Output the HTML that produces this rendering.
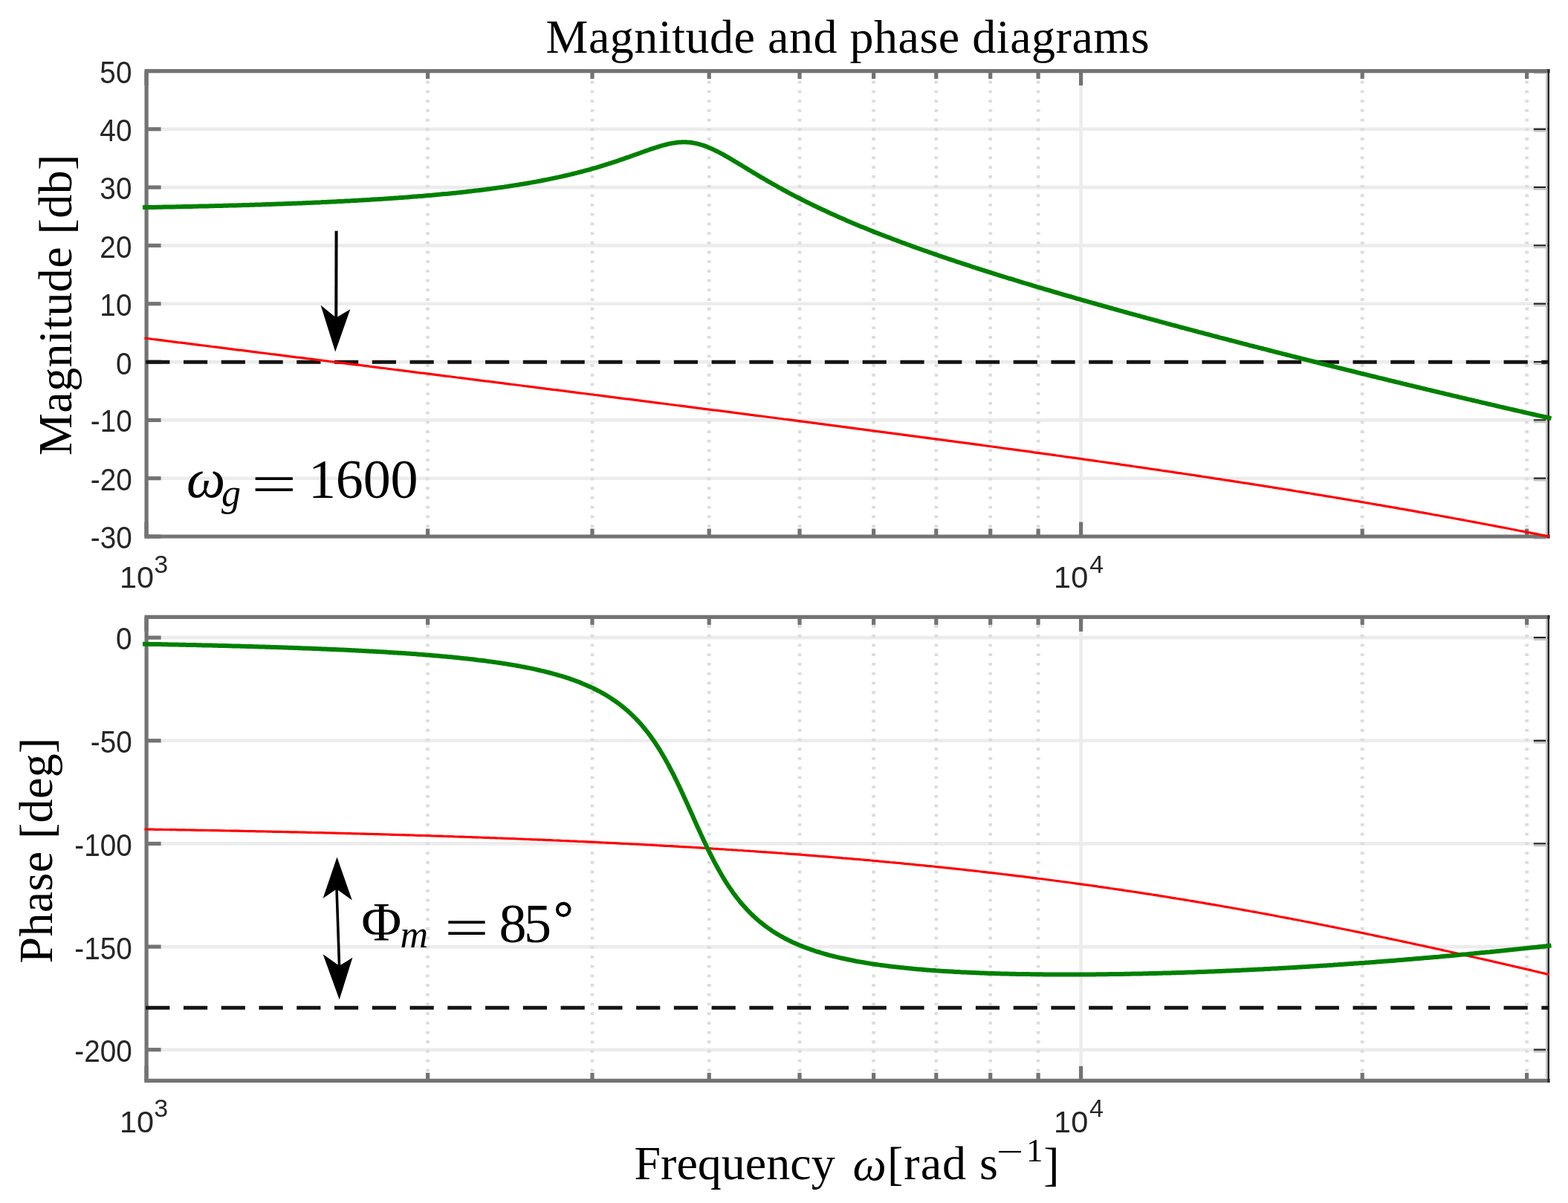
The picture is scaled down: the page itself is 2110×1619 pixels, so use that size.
<!DOCTYPE html>
<html><head><meta charset="utf-8"><style>html,body{margin:0;padding:0;background:#fff;overflow:hidden;}svg{display:block;}</style></head>
<body>
<svg width="2110" height="1619" viewBox="0 0 2110 1619">
<rect width="2110" height="1619" fill="#fff"/>
<line x1="197.1" y1="173.8" x2="2083.3" y2="173.8" stroke="#ececec" stroke-width="4.6"/>
<line x1="197.1" y1="252.1" x2="2083.3" y2="252.1" stroke="#ececec" stroke-width="4.6"/>
<line x1="197.1" y1="330.4" x2="2083.3" y2="330.4" stroke="#ececec" stroke-width="4.6"/>
<line x1="197.1" y1="408.8" x2="2083.3" y2="408.8" stroke="#ececec" stroke-width="4.6"/>
<line x1="197.1" y1="487.1" x2="2083.3" y2="487.1" stroke="#ececec" stroke-width="4.6"/>
<line x1="197.1" y1="565.4" x2="2083.3" y2="565.4" stroke="#ececec" stroke-width="4.6"/>
<line x1="197.1" y1="643.7" x2="2083.3" y2="643.7" stroke="#ececec" stroke-width="4.6"/>
<line x1="575.6" y1="722.0" x2="575.6" y2="95.6" stroke="#dddddd" stroke-width="4.8" stroke-dasharray="3.8 8.91" stroke-dashoffset="0.7"/>
<line x1="797.0" y1="722.0" x2="797.0" y2="95.6" stroke="#dddddd" stroke-width="4.8" stroke-dasharray="3.8 8.91" stroke-dashoffset="0.7"/>
<line x1="954.2" y1="722.0" x2="954.2" y2="95.6" stroke="#dddddd" stroke-width="4.8" stroke-dasharray="3.8 8.91" stroke-dashoffset="0.7"/>
<line x1="1076.0" y1="722.0" x2="1076.0" y2="95.6" stroke="#dddddd" stroke-width="4.8" stroke-dasharray="3.8 8.91" stroke-dashoffset="0.7"/>
<line x1="1175.6" y1="722.0" x2="1175.6" y2="95.6" stroke="#dddddd" stroke-width="4.8" stroke-dasharray="3.8 8.91" stroke-dashoffset="0.7"/>
<line x1="1259.8" y1="722.0" x2="1259.8" y2="95.6" stroke="#dddddd" stroke-width="4.8" stroke-dasharray="3.8 8.91" stroke-dashoffset="0.7"/>
<line x1="1332.7" y1="722.0" x2="1332.7" y2="95.6" stroke="#dddddd" stroke-width="4.8" stroke-dasharray="3.8 8.91" stroke-dashoffset="0.7"/>
<line x1="1397.1" y1="722.0" x2="1397.1" y2="95.6" stroke="#dddddd" stroke-width="4.8" stroke-dasharray="3.8 8.91" stroke-dashoffset="0.7"/>
<line x1="1833.2" y1="722.0" x2="1833.2" y2="95.6" stroke="#dddddd" stroke-width="4.8" stroke-dasharray="3.8 8.91" stroke-dashoffset="0.7"/>
<line x1="2054.6" y1="722.0" x2="2054.6" y2="95.6" stroke="#dddddd" stroke-width="4.8" stroke-dasharray="3.8 8.91" stroke-dashoffset="0.7"/>
<line x1="1454.6" y1="95.6" x2="1454.6" y2="722.0" stroke="#ececec" stroke-width="4.6"/>
<line x1="197.1" y1="858.1" x2="2083.3" y2="858.1" stroke="#ececec" stroke-width="4.6"/>
<line x1="197.1" y1="996.8" x2="2083.3" y2="996.8" stroke="#ececec" stroke-width="4.6"/>
<line x1="197.1" y1="1135.4" x2="2083.3" y2="1135.4" stroke="#ececec" stroke-width="4.6"/>
<line x1="197.1" y1="1274.1" x2="2083.3" y2="1274.1" stroke="#ececec" stroke-width="4.6"/>
<line x1="197.1" y1="1412.7" x2="2083.3" y2="1412.7" stroke="#ececec" stroke-width="4.6"/>
<line x1="575.6" y1="1454.3" x2="575.6" y2="830.4" stroke="#dddddd" stroke-width="4.8" stroke-dasharray="3.8 8.91" stroke-dashoffset="0.7"/>
<line x1="797.0" y1="1454.3" x2="797.0" y2="830.4" stroke="#dddddd" stroke-width="4.8" stroke-dasharray="3.8 8.91" stroke-dashoffset="0.7"/>
<line x1="954.2" y1="1454.3" x2="954.2" y2="830.4" stroke="#dddddd" stroke-width="4.8" stroke-dasharray="3.8 8.91" stroke-dashoffset="0.7"/>
<line x1="1076.0" y1="1454.3" x2="1076.0" y2="830.4" stroke="#dddddd" stroke-width="4.8" stroke-dasharray="3.8 8.91" stroke-dashoffset="0.7"/>
<line x1="1175.6" y1="1454.3" x2="1175.6" y2="830.4" stroke="#dddddd" stroke-width="4.8" stroke-dasharray="3.8 8.91" stroke-dashoffset="0.7"/>
<line x1="1259.8" y1="1454.3" x2="1259.8" y2="830.4" stroke="#dddddd" stroke-width="4.8" stroke-dasharray="3.8 8.91" stroke-dashoffset="0.7"/>
<line x1="1332.7" y1="1454.3" x2="1332.7" y2="830.4" stroke="#dddddd" stroke-width="4.8" stroke-dasharray="3.8 8.91" stroke-dashoffset="0.7"/>
<line x1="1397.1" y1="1454.3" x2="1397.1" y2="830.4" stroke="#dddddd" stroke-width="4.8" stroke-dasharray="3.8 8.91" stroke-dashoffset="0.7"/>
<line x1="1833.2" y1="1454.3" x2="1833.2" y2="830.4" stroke="#dddddd" stroke-width="4.8" stroke-dasharray="3.8 8.91" stroke-dashoffset="0.7"/>
<line x1="2054.6" y1="1454.3" x2="2054.6" y2="830.4" stroke="#dddddd" stroke-width="4.8" stroke-dasharray="3.8 8.91" stroke-dashoffset="0.7"/>
<line x1="1454.6" y1="830.4" x2="1454.6" y2="1454.3" stroke="#ececec" stroke-width="4.6"/>
<line x1="197.1" y1="95.5" x2="216.6" y2="95.5" stroke="#737373" stroke-width="5.2"/>
<line x1="2063.8" y1="95.5" x2="2083.3" y2="95.5" stroke="#262626" stroke-width="2.3"/>
<line x1="2063.8" y1="98.0" x2="2081.3" y2="98.0" stroke="#c4c4c4" stroke-width="2.7"/>
<line x1="197.1" y1="173.8" x2="216.6" y2="173.8" stroke="#737373" stroke-width="5.2"/>
<line x1="2063.8" y1="173.8" x2="2083.3" y2="173.8" stroke="#262626" stroke-width="2.3"/>
<line x1="2063.8" y1="176.3" x2="2081.3" y2="176.3" stroke="#c4c4c4" stroke-width="2.7"/>
<line x1="197.1" y1="252.1" x2="216.6" y2="252.1" stroke="#737373" stroke-width="5.2"/>
<line x1="2063.8" y1="252.1" x2="2083.3" y2="252.1" stroke="#262626" stroke-width="2.3"/>
<line x1="2063.8" y1="254.6" x2="2081.3" y2="254.6" stroke="#c4c4c4" stroke-width="2.7"/>
<line x1="197.1" y1="330.4" x2="216.6" y2="330.4" stroke="#737373" stroke-width="5.2"/>
<line x1="2063.8" y1="330.4" x2="2083.3" y2="330.4" stroke="#262626" stroke-width="2.3"/>
<line x1="2063.8" y1="332.9" x2="2081.3" y2="332.9" stroke="#c4c4c4" stroke-width="2.7"/>
<line x1="197.1" y1="408.8" x2="216.6" y2="408.8" stroke="#737373" stroke-width="5.2"/>
<line x1="2063.8" y1="408.8" x2="2083.3" y2="408.8" stroke="#262626" stroke-width="2.3"/>
<line x1="2063.8" y1="411.2" x2="2081.3" y2="411.2" stroke="#c4c4c4" stroke-width="2.7"/>
<line x1="197.1" y1="487.1" x2="216.6" y2="487.1" stroke="#737373" stroke-width="5.2"/>
<line x1="2063.8" y1="487.1" x2="2083.3" y2="487.1" stroke="#262626" stroke-width="2.3"/>
<line x1="2063.8" y1="489.6" x2="2081.3" y2="489.6" stroke="#c4c4c4" stroke-width="2.7"/>
<line x1="197.1" y1="565.4" x2="216.6" y2="565.4" stroke="#737373" stroke-width="5.2"/>
<line x1="2063.8" y1="565.4" x2="2083.3" y2="565.4" stroke="#262626" stroke-width="2.3"/>
<line x1="2063.8" y1="567.9" x2="2081.3" y2="567.9" stroke="#c4c4c4" stroke-width="2.7"/>
<line x1="197.1" y1="643.7" x2="216.6" y2="643.7" stroke="#737373" stroke-width="5.2"/>
<line x1="2063.8" y1="643.7" x2="2083.3" y2="643.7" stroke="#262626" stroke-width="2.3"/>
<line x1="2063.8" y1="646.2" x2="2081.3" y2="646.2" stroke="#c4c4c4" stroke-width="2.7"/>
<line x1="197.1" y1="722.0" x2="216.6" y2="722.0" stroke="#737373" stroke-width="5.2"/>
<line x1="2063.8" y1="722.0" x2="2083.3" y2="722.0" stroke="#262626" stroke-width="2.3"/>
<line x1="2063.8" y1="724.5" x2="2081.3" y2="724.5" stroke="#c4c4c4" stroke-width="2.7"/>
<line x1="197.0" y1="722.0" x2="197.0" y2="702.5" stroke="#737373" stroke-width="5.2"/>
<line x1="197.0" y1="95.6" x2="197.0" y2="115.1" stroke="#737373" stroke-width="5.2"/>
<line x1="1454.6" y1="722.0" x2="1454.6" y2="702.5" stroke="#737373" stroke-width="5.2"/>
<line x1="1454.6" y1="95.6" x2="1454.6" y2="115.1" stroke="#737373" stroke-width="5.2"/>
<line x1="575.6" y1="722.0" x2="575.6" y2="711.5" stroke="#737373" stroke-width="5.2"/>
<line x1="575.6" y1="95.6" x2="575.6" y2="106.1" stroke="#737373" stroke-width="5.2"/>
<line x1="797.0" y1="722.0" x2="797.0" y2="711.5" stroke="#737373" stroke-width="5.2"/>
<line x1="797.0" y1="95.6" x2="797.0" y2="106.1" stroke="#737373" stroke-width="5.2"/>
<line x1="954.2" y1="722.0" x2="954.2" y2="711.5" stroke="#737373" stroke-width="5.2"/>
<line x1="954.2" y1="95.6" x2="954.2" y2="106.1" stroke="#737373" stroke-width="5.2"/>
<line x1="1076.0" y1="722.0" x2="1076.0" y2="711.5" stroke="#737373" stroke-width="5.2"/>
<line x1="1076.0" y1="95.6" x2="1076.0" y2="106.1" stroke="#737373" stroke-width="5.2"/>
<line x1="1175.6" y1="722.0" x2="1175.6" y2="711.5" stroke="#737373" stroke-width="5.2"/>
<line x1="1175.6" y1="95.6" x2="1175.6" y2="106.1" stroke="#737373" stroke-width="5.2"/>
<line x1="1259.8" y1="722.0" x2="1259.8" y2="711.5" stroke="#737373" stroke-width="5.2"/>
<line x1="1259.8" y1="95.6" x2="1259.8" y2="106.1" stroke="#737373" stroke-width="5.2"/>
<line x1="1332.7" y1="722.0" x2="1332.7" y2="711.5" stroke="#737373" stroke-width="5.2"/>
<line x1="1332.7" y1="95.6" x2="1332.7" y2="106.1" stroke="#737373" stroke-width="5.2"/>
<line x1="1397.1" y1="722.0" x2="1397.1" y2="711.5" stroke="#737373" stroke-width="5.2"/>
<line x1="1397.1" y1="95.6" x2="1397.1" y2="106.1" stroke="#737373" stroke-width="5.2"/>
<line x1="1833.2" y1="722.0" x2="1833.2" y2="711.5" stroke="#737373" stroke-width="5.2"/>
<line x1="1833.2" y1="95.6" x2="1833.2" y2="106.1" stroke="#737373" stroke-width="5.2"/>
<line x1="2054.6" y1="722.0" x2="2054.6" y2="711.5" stroke="#737373" stroke-width="5.2"/>
<line x1="2054.6" y1="95.6" x2="2054.6" y2="106.1" stroke="#737373" stroke-width="5.2"/>
<path d="M197.1 722.0 V95.6 H2083.3" fill="none" stroke="#737373" stroke-width="5.2" stroke-linecap="square"/>
<path d="M197.1 722.0 H2083.3" fill="none" stroke="#737373" stroke-width="5.2" stroke-linecap="square"/>
<line x1="2083.7000000000003" y1="93.1" x2="2083.7000000000003" y2="724.5" stroke="#262626" stroke-width="2.6"/>
<line x1="2081.1000000000004" y1="98.1" x2="2081.1000000000004" y2="719.5" stroke="#c8c8c8" stroke-width="2.2"/>
<line x1="197.1" y1="858.1" x2="216.6" y2="858.1" stroke="#737373" stroke-width="5.2"/>
<line x1="2063.8" y1="858.1" x2="2083.3" y2="858.1" stroke="#262626" stroke-width="2.3"/>
<line x1="2063.8" y1="860.6" x2="2081.3" y2="860.6" stroke="#c4c4c4" stroke-width="2.7"/>
<line x1="197.1" y1="996.8" x2="216.6" y2="996.8" stroke="#737373" stroke-width="5.2"/>
<line x1="2063.8" y1="996.8" x2="2083.3" y2="996.8" stroke="#262626" stroke-width="2.3"/>
<line x1="2063.8" y1="999.3" x2="2081.3" y2="999.3" stroke="#c4c4c4" stroke-width="2.7"/>
<line x1="197.1" y1="1135.4" x2="216.6" y2="1135.4" stroke="#737373" stroke-width="5.2"/>
<line x1="2063.8" y1="1135.4" x2="2083.3" y2="1135.4" stroke="#262626" stroke-width="2.3"/>
<line x1="2063.8" y1="1137.9" x2="2081.3" y2="1137.9" stroke="#c4c4c4" stroke-width="2.7"/>
<line x1="197.1" y1="1274.1" x2="216.6" y2="1274.1" stroke="#737373" stroke-width="5.2"/>
<line x1="2063.8" y1="1274.1" x2="2083.3" y2="1274.1" stroke="#262626" stroke-width="2.3"/>
<line x1="2063.8" y1="1276.6" x2="2081.3" y2="1276.6" stroke="#c4c4c4" stroke-width="2.7"/>
<line x1="197.1" y1="1412.7" x2="216.6" y2="1412.7" stroke="#737373" stroke-width="5.2"/>
<line x1="2063.8" y1="1412.7" x2="2083.3" y2="1412.7" stroke="#262626" stroke-width="2.3"/>
<line x1="2063.8" y1="1415.2" x2="2081.3" y2="1415.2" stroke="#c4c4c4" stroke-width="2.7"/>
<line x1="197.0" y1="1454.3" x2="197.0" y2="1434.8" stroke="#737373" stroke-width="5.2"/>
<line x1="197.0" y1="830.4" x2="197.0" y2="849.9" stroke="#737373" stroke-width="5.2"/>
<line x1="1454.6" y1="1454.3" x2="1454.6" y2="1434.8" stroke="#737373" stroke-width="5.2"/>
<line x1="1454.6" y1="830.4" x2="1454.6" y2="849.9" stroke="#737373" stroke-width="5.2"/>
<line x1="575.6" y1="1454.3" x2="575.6" y2="1443.8" stroke="#737373" stroke-width="5.2"/>
<line x1="575.6" y1="830.4" x2="575.6" y2="840.9" stroke="#737373" stroke-width="5.2"/>
<line x1="797.0" y1="1454.3" x2="797.0" y2="1443.8" stroke="#737373" stroke-width="5.2"/>
<line x1="797.0" y1="830.4" x2="797.0" y2="840.9" stroke="#737373" stroke-width="5.2"/>
<line x1="954.2" y1="1454.3" x2="954.2" y2="1443.8" stroke="#737373" stroke-width="5.2"/>
<line x1="954.2" y1="830.4" x2="954.2" y2="840.9" stroke="#737373" stroke-width="5.2"/>
<line x1="1076.0" y1="1454.3" x2="1076.0" y2="1443.8" stroke="#737373" stroke-width="5.2"/>
<line x1="1076.0" y1="830.4" x2="1076.0" y2="840.9" stroke="#737373" stroke-width="5.2"/>
<line x1="1175.6" y1="1454.3" x2="1175.6" y2="1443.8" stroke="#737373" stroke-width="5.2"/>
<line x1="1175.6" y1="830.4" x2="1175.6" y2="840.9" stroke="#737373" stroke-width="5.2"/>
<line x1="1259.8" y1="1454.3" x2="1259.8" y2="1443.8" stroke="#737373" stroke-width="5.2"/>
<line x1="1259.8" y1="830.4" x2="1259.8" y2="840.9" stroke="#737373" stroke-width="5.2"/>
<line x1="1332.7" y1="1454.3" x2="1332.7" y2="1443.8" stroke="#737373" stroke-width="5.2"/>
<line x1="1332.7" y1="830.4" x2="1332.7" y2="840.9" stroke="#737373" stroke-width="5.2"/>
<line x1="1397.1" y1="1454.3" x2="1397.1" y2="1443.8" stroke="#737373" stroke-width="5.2"/>
<line x1="1397.1" y1="830.4" x2="1397.1" y2="840.9" stroke="#737373" stroke-width="5.2"/>
<line x1="1833.2" y1="1454.3" x2="1833.2" y2="1443.8" stroke="#737373" stroke-width="5.2"/>
<line x1="1833.2" y1="830.4" x2="1833.2" y2="840.9" stroke="#737373" stroke-width="5.2"/>
<line x1="2054.6" y1="1454.3" x2="2054.6" y2="1443.8" stroke="#737373" stroke-width="5.2"/>
<line x1="2054.6" y1="830.4" x2="2054.6" y2="840.9" stroke="#737373" stroke-width="5.2"/>
<path d="M197.1 1454.3 V830.4 H2083.3" fill="none" stroke="#737373" stroke-width="5.2" stroke-linecap="square"/>
<path d="M197.1 1454.3 H2083.3" fill="none" stroke="#737373" stroke-width="5.2" stroke-linecap="square"/>
<line x1="2083.7000000000003" y1="827.9" x2="2083.7000000000003" y2="1456.8" stroke="#262626" stroke-width="2.6"/>
<line x1="2081.1000000000004" y1="832.9" x2="2081.1000000000004" y2="1451.8" stroke="#c8c8c8" stroke-width="2.2"/>
<line x1="196.2" y1="487.3" x2="2083.8" y2="487.3" stroke="#141414" stroke-width="5.0" stroke-dasharray="32.2 18.56"/>
<line x1="196.2" y1="1356.2" x2="2083.8" y2="1356.2" stroke="#141414" stroke-width="5.0" stroke-dasharray="32.2 18.56"/>
<path d="M194.5 455.0 L198.3 455.5 L202.1 456.0 L205.9 456.5 L209.7 456.9 L213.4 457.4 L217.2 457.9 L221.0 458.4 L224.8 458.9 L228.6 459.3 L232.4 459.8 L236.2 460.3 L240.0 460.8 L243.8 461.2 L247.5 461.7 L251.3 462.2 L255.1 462.7 L258.9 463.1 L262.7 463.6 L266.5 464.1 L270.3 464.6 L274.1 465.0 L277.8 465.5 L281.6 466.0 L285.4 466.5 L289.2 466.9 L293.0 467.4 L296.8 467.9 L300.6 468.4 L304.4 468.8 L308.2 469.3 L311.9 469.8 L315.7 470.3 L319.5 470.8 L323.3 471.2 L327.1 471.7 L330.9 472.2 L334.7 472.7 L338.5 473.1 L342.3 473.6 L346.0 474.1 L349.8 474.6 L353.6 475.0 L357.4 475.5 L361.2 476.0 L365.0 476.5 L368.8 476.9 L372.6 477.4 L376.4 477.9 L380.1 478.4 L383.9 478.9 L387.7 479.3 L391.5 479.8 L395.3 480.3 L399.1 480.8 L402.9 481.2 L406.7 481.7 L410.4 482.2 L414.2 482.7 L418.0 483.1 L421.8 483.6 L425.6 484.1 L429.4 484.6 L433.2 485.0 L437.0 485.5 L440.8 486.0 L444.5 486.5 L448.3 487.0 L452.1 487.4 L455.9 487.9 L459.7 488.4 L463.5 488.9 L467.3 489.3 L471.1 489.8 L474.9 490.3 L478.6 490.8 L482.4 491.2 L486.2 491.7 L490.0 492.2 L493.8 492.7 L497.6 493.2 L501.4 493.6 L505.2 494.1 L509.0 494.6 L512.7 495.1 L516.5 495.5 L520.3 496.0 L524.1 496.5 L527.9 497.0 L531.7 497.5 L535.5 497.9 L539.3 498.4 L543.0 498.9 L546.8 499.4 L550.6 499.8 L554.4 500.3 L558.2 500.8 L562.0 501.3 L565.8 501.8 L569.6 502.2 L573.4 502.7 L577.1 503.2 L580.9 503.7 L584.7 504.1 L588.5 504.6 L592.3 505.1 L596.1 505.6 L599.9 506.1 L603.7 506.5 L607.5 507.0 L611.2 507.5 L615.0 508.0 L618.8 508.4 L622.6 508.9 L626.4 509.4 L630.2 509.9 L634.0 510.4 L637.8 510.8 L641.6 511.3 L645.3 511.8 L649.1 512.3 L652.9 512.8 L656.7 513.2 L660.5 513.7 L664.3 514.2 L668.1 514.7 L671.9 515.1 L675.6 515.6 L679.4 516.1 L683.2 516.6 L687.0 517.1 L690.8 517.5 L694.6 518.0 L698.4 518.5 L702.2 519.0 L706.0 519.5 L709.7 519.9 L713.5 520.4 L717.3 520.9 L721.1 521.4 L724.9 521.9 L728.7 522.3 L732.5 522.8 L736.3 523.3 L740.1 523.8 L743.8 524.3 L747.6 524.7 L751.4 525.2 L755.2 525.7 L759.0 526.2 L762.8 526.7 L766.6 527.1 L770.4 527.6 L774.2 528.1 L777.9 528.6 L781.7 529.1 L785.5 529.5 L789.3 530.0 L793.1 530.5 L796.9 531.0 L800.7 531.5 L804.5 531.9 L808.2 532.4 L812.0 532.9 L815.8 533.4 L819.6 533.9 L823.4 534.4 L827.2 534.8 L831.0 535.3 L834.8 535.8 L838.6 536.3 L842.3 536.8 L846.1 537.2 L849.9 537.7 L853.7 538.2 L857.5 538.7 L861.3 539.2 L865.1 539.7 L868.9 540.1 L872.7 540.6 L876.4 541.1 L880.2 541.6 L884.0 542.1 L887.8 542.6 L891.6 543.0 L895.4 543.5 L899.2 544.0 L903.0 544.5 L906.8 545.0 L910.5 545.5 L914.3 545.9 L918.1 546.4 L921.9 546.9 L925.7 547.4 L929.5 547.9 L933.3 548.4 L937.1 548.9 L940.8 549.3 L944.6 549.8 L948.4 550.3 L952.2 550.8 L956.0 551.3 L959.8 551.8 L963.6 552.2 L967.4 552.7 L971.2 553.2 L974.9 553.7 L978.7 554.2 L982.5 554.7 L986.3 555.2 L990.1 555.7 L993.9 556.1 L997.7 556.6 L1001.5 557.1 L1005.3 557.6 L1009.0 558.1 L1012.8 558.6 L1016.6 559.1 L1020.4 559.6 L1024.2 560.0 L1028.0 560.5 L1031.8 561.0 L1035.6 561.5 L1039.4 562.0 L1043.1 562.5 L1046.9 563.0 L1050.7 563.5 L1054.5 564.0 L1058.3 564.4 L1062.1 564.9 L1065.9 565.4 L1069.7 565.9 L1073.4 566.4 L1077.2 566.9 L1081.0 567.4 L1084.8 567.9 L1088.6 568.4 L1092.4 568.9 L1096.2 569.4 L1100.0 569.9 L1103.8 570.3 L1107.5 570.8 L1111.3 571.3 L1115.1 571.8 L1118.9 572.3 L1122.7 572.8 L1126.5 573.3 L1130.3 573.8 L1134.1 574.3 L1137.9 574.8 L1141.6 575.3 L1145.4 575.8 L1149.2 576.3 L1153.0 576.8 L1156.8 577.3 L1160.6 577.8 L1164.4 578.3 L1168.2 578.8 L1172.0 579.3 L1175.7 579.8 L1179.5 580.3 L1183.3 580.8 L1187.1 581.3 L1190.9 581.8 L1194.7 582.3 L1198.5 582.8 L1202.3 583.3 L1206.1 583.8 L1209.8 584.3 L1213.6 584.8 L1217.4 585.3 L1221.2 585.8 L1225.0 586.3 L1228.8 586.8 L1232.6 587.3 L1236.4 587.8 L1240.1 588.3 L1243.9 588.8 L1247.7 589.3 L1251.5 589.8 L1255.3 590.3 L1259.1 590.8 L1262.9 591.3 L1266.7 591.8 L1270.5 592.3 L1274.2 592.8 L1278.0 593.3 L1281.8 593.8 L1285.6 594.3 L1289.4 594.9 L1293.2 595.4 L1297.0 595.9 L1300.8 596.4 L1304.6 596.9 L1308.3 597.4 L1312.1 597.9 L1315.9 598.4 L1319.7 598.9 L1323.5 599.5 L1327.3 600.0 L1331.1 600.5 L1334.9 601.0 L1338.7 601.5 L1342.4 602.0 L1346.2 602.5 L1350.0 603.1 L1353.8 603.6 L1357.6 604.1 L1361.4 604.6 L1365.2 605.1 L1369.0 605.6 L1372.7 606.2 L1376.5 606.7 L1380.3 607.2 L1384.1 607.7 L1387.9 608.2 L1391.7 608.8 L1395.5 609.3 L1399.3 609.8 L1403.1 610.3 L1406.8 610.9 L1410.6 611.4 L1414.4 611.9 L1418.2 612.4 L1422.0 613.0 L1425.8 613.5 L1429.6 614.0 L1433.4 614.6 L1437.2 615.1 L1440.9 615.6 L1444.7 616.1 L1448.5 616.7 L1452.3 617.2 L1456.1 617.7 L1459.9 618.3 L1463.7 618.8 L1467.5 619.4 L1471.3 619.9 L1475.0 620.4 L1478.8 621.0 L1482.6 621.5 L1486.4 622.0 L1490.2 622.6 L1494.0 623.1 L1497.8 623.7 L1501.6 624.2 L1505.3 624.7 L1509.1 625.3 L1512.9 625.8 L1516.7 626.4 L1520.5 626.9 L1524.3 627.5 L1528.1 628.0 L1531.9 628.6 L1535.7 629.1 L1539.4 629.7 L1543.2 630.2 L1547.0 630.8 L1550.8 631.3 L1554.6 631.9 L1558.4 632.4 L1562.2 633.0 L1566.0 633.6 L1569.8 634.1 L1573.5 634.7 L1577.3 635.2 L1581.1 635.8 L1584.9 636.4 L1588.7 636.9 L1592.5 637.5 L1596.3 638.0 L1600.1 638.6 L1603.9 639.2 L1607.6 639.7 L1611.4 640.3 L1615.2 640.9 L1619.0 641.5 L1622.8 642.0 L1626.6 642.6 L1630.4 643.2 L1634.2 643.8 L1637.9 644.3 L1641.7 644.9 L1645.5 645.5 L1649.3 646.1 L1653.1 646.6 L1656.9 647.2 L1660.7 647.8 L1664.5 648.4 L1668.3 649.0 L1672.0 649.6 L1675.8 650.2 L1679.6 650.7 L1683.4 651.3 L1687.2 651.9 L1691.0 652.5 L1694.8 653.1 L1698.6 653.7 L1702.4 654.3 L1706.1 654.9 L1709.9 655.5 L1713.7 656.1 L1717.5 656.7 L1721.3 657.3 L1725.1 657.9 L1728.9 658.5 L1732.7 659.1 L1736.5 659.7 L1740.2 660.3 L1744.0 661.0 L1747.8 661.6 L1751.6 662.2 L1755.4 662.8 L1759.2 663.4 L1763.0 664.0 L1766.8 664.6 L1770.5 665.3 L1774.3 665.9 L1778.1 666.5 L1781.9 667.1 L1785.7 667.8 L1789.5 668.4 L1793.3 669.0 L1797.1 669.7 L1800.9 670.3 L1804.6 670.9 L1808.4 671.6 L1812.2 672.2 L1816.0 672.8 L1819.8 673.5 L1823.6 674.1 L1827.4 674.7 L1831.2 675.4 L1835.0 676.0 L1838.7 676.7 L1842.5 677.3 L1846.3 678.0 L1850.1 678.6 L1853.9 679.3 L1857.7 679.9 L1861.5 680.6 L1865.3 681.3 L1869.1 681.9 L1872.8 682.6 L1876.6 683.2 L1880.4 683.9 L1884.2 684.6 L1888.0 685.2 L1891.8 685.9 L1895.6 686.6 L1899.4 687.2 L1903.1 687.9 L1906.9 688.6 L1910.7 689.3 L1914.5 689.9 L1918.3 690.6 L1922.1 691.3 L1925.9 692.0 L1929.7 692.7 L1933.5 693.4 L1937.2 694.0 L1941.0 694.7 L1944.8 695.4 L1948.6 696.1 L1952.4 696.8 L1956.2 697.5 L1960.0 698.2 L1963.8 698.9 L1967.6 699.6 L1971.3 700.3 L1975.1 701.0 L1978.9 701.7 L1982.7 702.4 L1986.5 703.1 L1990.3 703.8 L1994.1 704.6 L1997.9 705.3 L2001.7 706.0 L2005.4 706.7 L2009.2 707.4 L2013.0 708.1 L2016.8 708.9 L2020.6 709.6 L2024.4 710.3 L2028.2 711.0 L2032.0 711.8 L2035.7 712.5 L2039.5 713.2 L2043.3 714.0 L2047.1 714.7 L2050.9 715.4 L2054.7 716.2 L2058.5 716.9 L2062.3 717.6 L2066.1 718.4 L2069.8 719.1 L2073.6 719.9 L2077.4 720.6 L2081.2 721.4 L2085.0 722.1" fill="none" stroke="#ff0000" stroke-width="3.2"/>
<path d="M192.0 279.2 L194.4 279.1 L196.7 279.1 L199.1 279.0 L201.5 279.0 L203.9 279.0 L206.2 278.9 L208.6 278.9 L211.0 278.8 L213.4 278.8 L215.7 278.7 L218.1 278.7 L220.5 278.6 L222.8 278.6 L225.2 278.6 L227.6 278.5 L230.0 278.5 L232.3 278.4 L234.7 278.4 L237.1 278.3 L239.4 278.3 L241.8 278.2 L244.2 278.2 L246.6 278.1 L248.9 278.1 L251.3 278.0 L253.7 278.0 L256.1 277.9 L258.4 277.9 L260.8 277.8 L263.2 277.8 L265.5 277.7 L267.9 277.6 L270.3 277.6 L272.7 277.5 L275.0 277.5 L277.4 277.4 L279.8 277.4 L282.1 277.3 L284.5 277.2 L286.9 277.2 L289.3 277.1 L291.6 277.1 L294.0 277.0 L296.4 276.9 L298.8 276.9 L301.1 276.8 L303.5 276.8 L305.9 276.7 L308.2 276.6 L310.6 276.6 L313.0 276.5 L315.4 276.4 L317.7 276.4 L320.1 276.3 L322.5 276.2 L324.9 276.2 L327.2 276.1 L329.6 276.0 L332.0 275.9 L334.3 275.9 L336.7 275.8 L339.1 275.7 L341.5 275.7 L343.8 275.6 L346.2 275.5 L348.6 275.4 L350.9 275.4 L353.3 275.3 L355.7 275.2 L358.1 275.1 L360.4 275.0 L362.8 275.0 L365.2 274.9 L367.6 274.8 L369.9 274.7 L372.3 274.6 L374.7 274.6 L377.0 274.5 L379.4 274.4 L381.8 274.3 L384.2 274.2 L386.5 274.1 L388.9 274.0 L391.3 273.9 L393.6 273.8 L396.0 273.8 L398.4 273.7 L400.8 273.6 L403.1 273.5 L405.5 273.4 L407.9 273.3 L410.3 273.2 L412.6 273.1 L415.0 273.0 L417.4 272.9 L419.7 272.8 L422.1 272.7 L424.5 272.6 L426.9 272.5 L429.2 272.4 L431.6 272.3 L434.0 272.1 L436.4 272.0 L438.7 271.9 L441.1 271.8 L443.5 271.7 L445.8 271.6 L448.2 271.5 L450.6 271.4 L453.0 271.2 L455.3 271.1 L457.7 271.0 L460.1 270.9 L462.4 270.8 L464.8 270.6 L467.2 270.5 L469.6 270.4 L471.9 270.3 L474.3 270.1 L476.7 270.0 L479.1 269.9 L481.4 269.7 L483.8 269.6 L486.2 269.5 L488.5 269.3 L490.9 269.2 L493.3 269.0 L495.7 268.9 L498.0 268.8 L500.4 268.6 L502.8 268.5 L505.1 268.3 L507.5 268.2 L509.9 268.0 L512.3 267.9 L514.6 267.7 L517.0 267.6 L519.4 267.4 L521.8 267.2 L524.1 267.1 L526.5 266.9 L528.9 266.8 L531.2 266.6 L533.6 266.4 L536.0 266.3 L538.4 266.1 L540.7 265.9 L543.1 265.7 L545.5 265.6 L547.9 265.4 L550.2 265.2 L552.6 265.0 L555.0 264.8 L557.3 264.6 L559.7 264.5 L562.1 264.3 L564.5 264.1 L566.8 263.9 L569.2 263.7 L571.6 263.5 L573.9 263.3 L576.3 263.1 L578.7 262.9 L581.1 262.7 L583.4 262.4 L585.8 262.2 L588.2 262.0 L590.6 261.8 L592.9 261.6 L595.3 261.3 L597.7 261.1 L600.0 260.9 L602.4 260.7 L604.8 260.4 L607.2 260.2 L609.5 259.9 L611.9 259.7 L614.3 259.5 L616.6 259.2 L619.0 259.0 L621.4 258.7 L623.8 258.4 L626.1 258.2 L628.5 257.9 L630.9 257.6 L633.3 257.4 L635.6 257.1 L638.0 256.8 L640.4 256.5 L642.7 256.3 L645.1 256.0 L647.5 255.7 L649.9 255.4 L652.2 255.1 L654.6 254.8 L657.0 254.5 L659.4 254.2 L661.7 253.9 L664.1 253.5 L666.5 253.2 L668.8 252.9 L671.2 252.6 L673.6 252.2 L676.0 251.9 L678.3 251.6 L680.7 251.2 L683.1 250.9 L685.4 250.5 L687.8 250.1 L690.2 249.8 L692.6 249.4 L694.9 249.0 L697.3 248.7 L699.7 248.3 L702.1 247.9 L704.4 247.5 L706.8 247.1 L709.2 246.7 L711.5 246.3 L713.9 245.9 L716.3 245.4 L718.7 245.0 L721.0 244.6 L723.4 244.1 L725.8 243.7 L728.1 243.3 L730.5 242.8 L732.9 242.3 L735.3 241.9 L737.6 241.4 L740.0 240.9 L742.4 240.4 L744.8 239.9 L747.1 239.4 L749.5 238.9 L751.9 238.4 L754.2 237.9 L756.6 237.3 L759.0 236.8 L761.4 236.3 L763.7 235.7 L766.1 235.2 L768.5 234.6 L770.9 234.0 L773.2 233.4 L775.6 232.8 L778.0 232.2 L780.3 231.6 L782.7 231.0 L785.1 230.4 L787.5 229.7 L789.8 229.1 L792.2 228.5 L794.6 227.8 L796.9 227.1 L799.3 226.4 L801.7 225.8 L804.1 225.1 L806.4 224.4 L808.8 223.6 L811.2 222.9 L813.6 222.2 L815.9 221.4 L818.3 220.7 L820.7 219.9 L823.0 219.2 L825.4 218.4 L827.8 217.6 L830.2 216.8 L832.5 216.0 L834.9 215.2 L837.3 214.4 L839.6 213.6 L842.0 212.7 L844.4 211.9 L846.8 211.1 L849.1 210.2 L851.5 209.4 L853.9 208.5 L856.3 207.7 L858.6 206.8 L861.0 206.0 L863.4 205.1 L865.7 204.3 L868.1 203.4 L870.5 202.6 L872.9 201.8 L875.2 200.9 L877.6 200.1 L880.0 199.3 L882.4 198.6 L884.7 197.8 L887.1 197.1 L889.5 196.4 L891.8 195.7 L894.2 195.1 L896.6 194.5 L899.0 193.9 L901.3 193.4 L903.7 192.9 L906.1 192.5 L908.4 192.2 L910.8 191.8 L913.2 191.6 L915.6 191.4 L917.9 191.3 L920.3 191.3 L922.7 191.3 L925.1 191.4 L927.4 191.6 L929.8 191.8 L932.2 192.2 L934.5 192.6 L936.9 193.1 L939.3 193.6 L941.7 194.3 L944.0 195.0 L946.4 195.7 L948.8 196.6 L951.1 197.4 L953.5 198.4 L955.9 199.4 L958.3 200.5 L960.6 201.6 L963.0 202.7 L965.4 203.9 L967.8 205.1 L970.1 206.4 L972.5 207.7 L974.9 209.0 L977.2 210.3 L979.6 211.7 L982.0 213.1 L984.4 214.5 L986.7 215.9 L989.1 217.3 L991.5 218.7 L993.9 220.2 L996.2 221.6 L998.6 223.0 L1001.0 224.5 L1003.3 225.9 L1005.7 227.4 L1008.1 228.8 L1010.5 230.2 L1012.8 231.7 L1015.2 233.1 L1017.6 234.5 L1019.9 235.9 L1022.3 237.4 L1024.7 238.8 L1027.1 240.2 L1029.4 241.5 L1031.8 242.9 L1034.2 244.3 L1036.6 245.7 L1038.9 247.0 L1041.3 248.4 L1043.7 249.7 L1046.0 251.0 L1048.4 252.4 L1050.8 253.7 L1053.2 255.0 L1055.5 256.3 L1057.9 257.5 L1060.3 258.8 L1062.6 260.1 L1065.0 261.3 L1067.4 262.6 L1069.8 263.8 L1072.1 265.1 L1074.5 266.3 L1076.9 267.5 L1079.3 268.7 L1081.6 269.9 L1084.0 271.1 L1086.4 272.3 L1088.7 273.4 L1091.1 274.6 L1093.5 275.8 L1095.9 276.9 L1098.2 278.1 L1100.6 279.2 L1103.0 280.3 L1105.4 281.4 L1107.7 282.5 L1110.1 283.6 L1112.5 284.7 L1114.8 285.8 L1117.2 286.9 L1119.6 288.0 L1122.0 289.1 L1124.3 290.1 L1126.7 291.2 L1129.1 292.2 L1131.4 293.3 L1133.8 294.3 L1136.2 295.3 L1138.6 296.4 L1140.9 297.4 L1143.3 298.4 L1145.7 299.4 L1148.1 300.4 L1150.4 301.4 L1152.8 302.4 L1155.2 303.4 L1157.5 304.4 L1159.9 305.4 L1162.3 306.3 L1164.7 307.3 L1167.0 308.3 L1169.4 309.2 L1171.8 310.2 L1174.1 311.1 L1176.5 312.1 L1178.9 313.0 L1181.3 313.9 L1183.6 314.9 L1186.0 315.8 L1188.4 316.7 L1190.8 317.6 L1193.1 318.5 L1195.5 319.4 L1197.9 320.3 L1200.2 321.2 L1202.6 322.1 L1205.0 323.0 L1207.4 323.9 L1209.7 324.8 L1212.1 325.7 L1214.5 326.6 L1216.9 327.4 L1219.2 328.3 L1221.6 329.2 L1224.0 330.0 L1226.3 330.9 L1228.7 331.8 L1231.1 332.6 L1233.5 333.5 L1235.8 334.3 L1238.2 335.2 L1240.6 336.0 L1242.9 336.8 L1245.3 337.7 L1247.7 338.5 L1250.1 339.3 L1252.4 340.2 L1254.8 341.0 L1257.2 341.8 L1259.6 342.6 L1261.9 343.5 L1264.3 344.3 L1266.7 345.1 L1269.0 345.9 L1271.4 346.7 L1273.8 347.5 L1276.2 348.3 L1278.5 349.1 L1280.9 349.9 L1283.3 350.7 L1285.6 351.5 L1288.0 352.3 L1290.4 353.0 L1292.8 353.8 L1295.1 354.6 L1297.5 355.4 L1299.9 356.2 L1302.3 356.9 L1304.6 357.7 L1307.0 358.5 L1309.4 359.3 L1311.7 360.0 L1314.1 360.8 L1316.5 361.6 L1318.9 362.3 L1321.2 363.1 L1323.6 363.8 L1326.0 364.6 L1328.4 365.3 L1330.7 366.1 L1333.1 366.8 L1335.5 367.6 L1337.8 368.3 L1340.2 369.1 L1342.6 369.8 L1345.0 370.6 L1347.3 371.3 L1349.7 372.0 L1352.1 372.8 L1354.4 373.5 L1356.8 374.3 L1359.2 375.0 L1361.6 375.7 L1363.9 376.4 L1366.3 377.2 L1368.7 377.9 L1371.1 378.6 L1373.4 379.3 L1375.8 380.1 L1378.2 380.8 L1380.5 381.5 L1382.9 382.2 L1385.3 382.9 L1387.7 383.6 L1390.0 384.4 L1392.4 385.1 L1394.8 385.8 L1397.1 386.5 L1399.5 387.2 L1401.9 387.9 L1404.3 388.6 L1406.6 389.3 L1409.0 390.0 L1411.4 390.7 L1413.8 391.4 L1416.1 392.1 L1418.5 392.8 L1420.9 393.5 L1423.2 394.2 L1425.6 394.9 L1428.0 395.6 L1430.4 396.3 L1432.7 397.0 L1435.1 397.6 L1437.5 398.3 L1439.9 399.0 L1442.2 399.7 L1444.6 400.4 L1447.0 401.1 L1449.3 401.8 L1451.7 402.4 L1454.1 403.1 L1456.5 403.8 L1458.8 404.5 L1461.2 405.1 L1463.6 405.8 L1465.9 406.5 L1468.3 407.2 L1470.7 407.8 L1473.1 408.5 L1475.4 409.2 L1477.8 409.9 L1480.2 410.5 L1482.6 411.2 L1484.9 411.9 L1487.3 412.5 L1489.7 413.2 L1492.0 413.9 L1494.4 414.5 L1496.8 415.2 L1499.2 415.9 L1501.5 416.5 L1503.9 417.2 L1506.3 417.8 L1508.6 418.5 L1511.0 419.2 L1513.4 419.8 L1515.8 420.5 L1518.1 421.1 L1520.5 421.8 L1522.9 422.4 L1525.3 423.1 L1527.6 423.7 L1530.0 424.4 L1532.4 425.0 L1534.7 425.7 L1537.1 426.3 L1539.5 427.0 L1541.9 427.6 L1544.2 428.3 L1546.6 428.9 L1549.0 429.6 L1551.4 430.2 L1553.7 430.9 L1556.1 431.5 L1558.5 432.2 L1560.8 432.8 L1563.2 433.4 L1565.6 434.1 L1568.0 434.7 L1570.3 435.4 L1572.7 436.0 L1575.1 436.6 L1577.4 437.3 L1579.8 437.9 L1582.2 438.5 L1584.6 439.2 L1586.9 439.8 L1589.3 440.5 L1591.7 441.1 L1594.1 441.7 L1596.4 442.4 L1598.8 443.0 L1601.2 443.6 L1603.5 444.2 L1605.9 444.9 L1608.3 445.5 L1610.7 446.1 L1613.0 446.8 L1615.4 447.4 L1617.8 448.0 L1620.1 448.6 L1622.5 449.3 L1624.9 449.9 L1627.3 450.5 L1629.6 451.1 L1632.0 451.8 L1634.4 452.4 L1636.8 453.0 L1639.1 453.6 L1641.5 454.3 L1643.9 454.9 L1646.2 455.5 L1648.6 456.1 L1651.0 456.7 L1653.4 457.4 L1655.7 458.0 L1658.1 458.6 L1660.5 459.2 L1662.9 459.8 L1665.2 460.4 L1667.6 461.1 L1670.0 461.7 L1672.3 462.3 L1674.7 462.9 L1677.1 463.5 L1679.5 464.1 L1681.8 464.8 L1684.2 465.4 L1686.6 466.0 L1688.9 466.6 L1691.3 467.2 L1693.7 467.8 L1696.1 468.4 L1698.4 469.0 L1700.8 469.6 L1703.2 470.2 L1705.6 470.9 L1707.9 471.5 L1710.3 472.1 L1712.7 472.7 L1715.0 473.3 L1717.4 473.9 L1719.8 474.5 L1722.2 475.1 L1724.5 475.7 L1726.9 476.3 L1729.3 476.9 L1731.6 477.5 L1734.0 478.1 L1736.4 478.7 L1738.8 479.3 L1741.1 479.9 L1743.5 480.5 L1745.9 481.1 L1748.3 481.7 L1750.6 482.3 L1753.0 482.9 L1755.4 483.5 L1757.7 484.1 L1760.1 484.7 L1762.5 485.3 L1764.9 485.9 L1767.2 486.5 L1769.6 487.1 L1772.0 487.7 L1774.4 488.3 L1776.7 488.9 L1779.1 489.5 L1781.5 490.1 L1783.8 490.7 L1786.2 491.3 L1788.6 491.9 L1791.0 492.4 L1793.3 493.0 L1795.7 493.6 L1798.1 494.2 L1800.4 494.8 L1802.8 495.4 L1805.2 496.0 L1807.6 496.6 L1809.9 497.2 L1812.3 497.8 L1814.7 498.3 L1817.1 498.9 L1819.4 499.5 L1821.8 500.1 L1824.2 500.7 L1826.5 501.3 L1828.9 501.9 L1831.3 502.5 L1833.7 503.0 L1836.0 503.6 L1838.4 504.2 L1840.8 504.8 L1843.1 505.4 L1845.5 506.0 L1847.9 506.5 L1850.3 507.1 L1852.6 507.7 L1855.0 508.3 L1857.4 508.9 L1859.8 509.4 L1862.1 510.0 L1864.5 510.6 L1866.9 511.2 L1869.2 511.8 L1871.6 512.3 L1874.0 512.9 L1876.4 513.5 L1878.7 514.1 L1881.1 514.6 L1883.5 515.2 L1885.9 515.8 L1888.2 516.4 L1890.6 516.9 L1893.0 517.5 L1895.3 518.1 L1897.7 518.7 L1900.1 519.2 L1902.5 519.8 L1904.8 520.4 L1907.2 521.0 L1909.6 521.5 L1911.9 522.1 L1914.3 522.7 L1916.7 523.2 L1919.1 523.8 L1921.4 524.4 L1923.8 524.9 L1926.2 525.5 L1928.6 526.1 L1930.9 526.7 L1933.3 527.2 L1935.7 527.8 L1938.0 528.4 L1940.4 528.9 L1942.8 529.5 L1945.2 530.1 L1947.5 530.6 L1949.9 531.2 L1952.3 531.7 L1954.6 532.3 L1957.0 532.9 L1959.4 533.4 L1961.8 534.0 L1964.1 534.6 L1966.5 535.1 L1968.9 535.7 L1971.3 536.2 L1973.6 536.8 L1976.0 537.4 L1978.4 537.9 L1980.7 538.5 L1983.1 539.0 L1985.5 539.6 L1987.9 540.1 L1990.2 540.7 L1992.6 541.3 L1995.0 541.8 L1997.4 542.4 L1999.7 542.9 L2002.1 543.5 L2004.5 544.0 L2006.8 544.6 L2009.2 545.1 L2011.6 545.7 L2014.0 546.3 L2016.3 546.8 L2018.7 547.4 L2021.1 547.9 L2023.4 548.5 L2025.8 549.0 L2028.2 549.6 L2030.6 550.1 L2032.9 550.7 L2035.3 551.2 L2037.7 551.7 L2040.1 552.3 L2042.4 552.8 L2044.8 553.4 L2047.2 553.9 L2049.5 554.5 L2051.9 555.0 L2054.3 555.6 L2056.7 556.1 L2059.0 556.7 L2061.4 557.2 L2063.8 557.7 L2066.1 558.3 L2068.5 558.8 L2070.9 559.4 L2073.3 559.9 L2075.6 560.4 L2078.0 561.0 L2080.4 561.5 L2082.8 562.1 L2085.1 562.6 L2087.5 563.1" fill="none" stroke="#008000" stroke-width="6.0"/>
<path d="M194.5 1116.0 L198.3 1116.1 L202.1 1116.2 L205.9 1116.2 L209.7 1116.3 L213.4 1116.3 L217.2 1116.4 L221.0 1116.5 L224.8 1116.5 L228.6 1116.6 L232.4 1116.7 L236.2 1116.7 L240.0 1116.8 L243.8 1116.9 L247.5 1116.9 L251.3 1117.0 L255.1 1117.0 L258.9 1117.1 L262.7 1117.2 L266.5 1117.3 L270.3 1117.3 L274.1 1117.4 L277.8 1117.5 L281.6 1117.5 L285.4 1117.6 L289.2 1117.7 L293.0 1117.7 L296.8 1117.8 L300.6 1117.9 L304.4 1118.0 L308.2 1118.0 L311.9 1118.1 L315.7 1118.2 L319.5 1118.2 L323.3 1118.3 L327.1 1118.4 L330.9 1118.5 L334.7 1118.6 L338.5 1118.6 L342.3 1118.7 L346.0 1118.8 L349.8 1118.9 L353.6 1118.9 L357.4 1119.0 L361.2 1119.1 L365.0 1119.2 L368.8 1119.3 L372.6 1119.3 L376.4 1119.4 L380.1 1119.5 L383.9 1119.6 L387.7 1119.7 L391.5 1119.8 L395.3 1119.9 L399.1 1119.9 L402.9 1120.0 L406.7 1120.1 L410.4 1120.2 L414.2 1120.3 L418.0 1120.4 L421.8 1120.5 L425.6 1120.6 L429.4 1120.7 L433.2 1120.7 L437.0 1120.8 L440.8 1120.9 L444.5 1121.0 L448.3 1121.1 L452.1 1121.2 L455.9 1121.3 L459.7 1121.4 L463.5 1121.5 L467.3 1121.6 L471.1 1121.7 L474.9 1121.8 L478.6 1121.9 L482.4 1122.0 L486.2 1122.1 L490.0 1122.2 L493.8 1122.3 L497.6 1122.4 L501.4 1122.5 L505.2 1122.6 L509.0 1122.7 L512.7 1122.8 L516.5 1122.9 L520.3 1123.0 L524.1 1123.1 L527.9 1123.3 L531.7 1123.4 L535.5 1123.5 L539.3 1123.6 L543.0 1123.7 L546.8 1123.8 L550.6 1123.9 L554.4 1124.0 L558.2 1124.2 L562.0 1124.3 L565.8 1124.4 L569.6 1124.5 L573.4 1124.6 L577.1 1124.7 L580.9 1124.9 L584.7 1125.0 L588.5 1125.1 L592.3 1125.2 L596.1 1125.3 L599.9 1125.5 L603.7 1125.6 L607.5 1125.7 L611.2 1125.9 L615.0 1126.0 L618.8 1126.1 L622.6 1126.2 L626.4 1126.4 L630.2 1126.5 L634.0 1126.6 L637.8 1126.8 L641.6 1126.9 L645.3 1127.0 L649.1 1127.2 L652.9 1127.3 L656.7 1127.4 L660.5 1127.6 L664.3 1127.7 L668.1 1127.9 L671.9 1128.0 L675.6 1128.1 L679.4 1128.3 L683.2 1128.4 L687.0 1128.6 L690.8 1128.7 L694.6 1128.9 L698.4 1129.0 L702.2 1129.2 L706.0 1129.3 L709.7 1129.5 L713.5 1129.6 L717.3 1129.8 L721.1 1129.9 L724.9 1130.1 L728.7 1130.2 L732.5 1130.4 L736.3 1130.6 L740.1 1130.7 L743.8 1130.9 L747.6 1131.0 L751.4 1131.2 L755.2 1131.4 L759.0 1131.5 L762.8 1131.7 L766.6 1131.9 L770.4 1132.0 L774.2 1132.2 L777.9 1132.4 L781.7 1132.5 L785.5 1132.7 L789.3 1132.9 L793.1 1133.1 L796.9 1133.2 L800.7 1133.4 L804.5 1133.6 L808.2 1133.8 L812.0 1134.0 L815.8 1134.1 L819.6 1134.3 L823.4 1134.5 L827.2 1134.7 L831.0 1134.9 L834.8 1135.1 L838.6 1135.3 L842.3 1135.5 L846.1 1135.7 L849.9 1135.8 L853.7 1136.0 L857.5 1136.2 L861.3 1136.4 L865.1 1136.6 L868.9 1136.8 L872.7 1137.0 L876.4 1137.2 L880.2 1137.4 L884.0 1137.7 L887.8 1137.9 L891.6 1138.1 L895.4 1138.3 L899.2 1138.5 L903.0 1138.7 L906.8 1138.9 L910.5 1139.1 L914.3 1139.4 L918.1 1139.6 L921.9 1139.8 L925.7 1140.0 L929.5 1140.2 L933.3 1140.5 L937.1 1140.7 L940.8 1140.9 L944.6 1141.1 L948.4 1141.4 L952.2 1141.6 L956.0 1141.8 L959.8 1142.1 L963.6 1142.3 L967.4 1142.6 L971.2 1142.8 L974.9 1143.0 L978.7 1143.3 L982.5 1143.5 L986.3 1143.8 L990.1 1144.0 L993.9 1144.3 L997.7 1144.5 L1001.5 1144.8 L1005.3 1145.0 L1009.0 1145.3 L1012.8 1145.5 L1016.6 1145.8 L1020.4 1146.1 L1024.2 1146.3 L1028.0 1146.6 L1031.8 1146.9 L1035.6 1147.1 L1039.4 1147.4 L1043.1 1147.7 L1046.9 1148.0 L1050.7 1148.2 L1054.5 1148.5 L1058.3 1148.8 L1062.1 1149.1 L1065.9 1149.3 L1069.7 1149.6 L1073.4 1149.9 L1077.2 1150.2 L1081.0 1150.5 L1084.8 1150.8 L1088.6 1151.1 L1092.4 1151.4 L1096.2 1151.7 L1100.0 1152.0 L1103.8 1152.3 L1107.5 1152.6 L1111.3 1152.9 L1115.1 1153.2 L1118.9 1153.5 L1122.7 1153.8 L1126.5 1154.1 L1130.3 1154.4 L1134.1 1154.8 L1137.9 1155.1 L1141.6 1155.4 L1145.4 1155.7 L1149.2 1156.1 L1153.0 1156.4 L1156.8 1156.7 L1160.6 1157.0 L1164.4 1157.4 L1168.2 1157.7 L1172.0 1158.0 L1175.7 1158.4 L1179.5 1158.7 L1183.3 1159.1 L1187.1 1159.4 L1190.9 1159.8 L1194.7 1160.1 L1198.5 1160.5 L1202.3 1160.8 L1206.1 1161.2 L1209.8 1161.5 L1213.6 1161.9 L1217.4 1162.3 L1221.2 1162.6 L1225.0 1163.0 L1228.8 1163.4 L1232.6 1163.8 L1236.4 1164.1 L1240.1 1164.5 L1243.9 1164.9 L1247.7 1165.3 L1251.5 1165.6 L1255.3 1166.0 L1259.1 1166.4 L1262.9 1166.8 L1266.7 1167.2 L1270.5 1167.6 L1274.2 1168.0 L1278.0 1168.4 L1281.8 1168.8 L1285.6 1169.2 L1289.4 1169.6 L1293.2 1170.0 L1297.0 1170.4 L1300.8 1170.9 L1304.6 1171.3 L1308.3 1171.7 L1312.1 1172.1 L1315.9 1172.5 L1319.7 1173.0 L1323.5 1173.4 L1327.3 1173.8 L1331.1 1174.3 L1334.9 1174.7 L1338.7 1175.2 L1342.4 1175.6 L1346.2 1176.0 L1350.0 1176.5 L1353.8 1176.9 L1357.6 1177.4 L1361.4 1177.8 L1365.2 1178.3 L1369.0 1178.8 L1372.7 1179.2 L1376.5 1179.7 L1380.3 1180.2 L1384.1 1180.6 L1387.9 1181.1 L1391.7 1181.6 L1395.5 1182.1 L1399.3 1182.5 L1403.1 1183.0 L1406.8 1183.5 L1410.6 1184.0 L1414.4 1184.5 L1418.2 1185.0 L1422.0 1185.5 L1425.8 1186.0 L1429.6 1186.5 L1433.4 1187.0 L1437.2 1187.5 L1440.9 1188.0 L1444.7 1188.5 L1448.5 1189.1 L1452.3 1189.6 L1456.1 1190.1 L1459.9 1190.6 L1463.7 1191.1 L1467.5 1191.7 L1471.3 1192.2 L1475.0 1192.7 L1478.8 1193.3 L1482.6 1193.8 L1486.4 1194.4 L1490.2 1194.9 L1494.0 1195.5 L1497.8 1196.0 L1501.6 1196.6 L1505.3 1197.1 L1509.1 1197.7 L1512.9 1198.3 L1516.7 1198.8 L1520.5 1199.4 L1524.3 1200.0 L1528.1 1200.5 L1531.9 1201.1 L1535.7 1201.7 L1539.4 1202.3 L1543.2 1202.9 L1547.0 1203.4 L1550.8 1204.0 L1554.6 1204.6 L1558.4 1205.2 L1562.2 1205.8 L1566.0 1206.4 L1569.8 1207.0 L1573.5 1207.6 L1577.3 1208.3 L1581.1 1208.9 L1584.9 1209.5 L1588.7 1210.1 L1592.5 1210.7 L1596.3 1211.3 L1600.1 1212.0 L1603.9 1212.6 L1607.6 1213.2 L1611.4 1213.9 L1615.2 1214.5 L1619.0 1215.1 L1622.8 1215.8 L1626.6 1216.4 L1630.4 1217.1 L1634.2 1217.7 L1637.9 1218.4 L1641.7 1219.0 L1645.5 1219.7 L1649.3 1220.4 L1653.1 1221.0 L1656.9 1221.7 L1660.7 1222.4 L1664.5 1223.0 L1668.3 1223.7 L1672.0 1224.4 L1675.8 1225.1 L1679.6 1225.8 L1683.4 1226.5 L1687.2 1227.1 L1691.0 1227.8 L1694.8 1228.5 L1698.6 1229.2 L1702.4 1229.9 L1706.1 1230.6 L1709.9 1231.3 L1713.7 1232.0 L1717.5 1232.7 L1721.3 1233.5 L1725.1 1234.2 L1728.9 1234.9 L1732.7 1235.6 L1736.5 1236.3 L1740.2 1237.1 L1744.0 1237.8 L1747.8 1238.5 L1751.6 1239.2 L1755.4 1240.0 L1759.2 1240.7 L1763.0 1241.4 L1766.8 1242.2 L1770.5 1242.9 L1774.3 1243.7 L1778.1 1244.4 L1781.9 1245.2 L1785.7 1245.9 L1789.5 1246.7 L1793.3 1247.4 L1797.1 1248.2 L1800.9 1249.0 L1804.6 1249.7 L1808.4 1250.5 L1812.2 1251.3 L1816.0 1252.0 L1819.8 1252.8 L1823.6 1253.6 L1827.4 1254.4 L1831.2 1255.1 L1835.0 1255.9 L1838.7 1256.7 L1842.5 1257.5 L1846.3 1258.3 L1850.1 1259.1 L1853.9 1259.9 L1857.7 1260.7 L1861.5 1261.5 L1865.3 1262.3 L1869.1 1263.1 L1872.8 1263.9 L1876.6 1264.7 L1880.4 1265.5 L1884.2 1266.3 L1888.0 1267.1 L1891.8 1267.9 L1895.6 1268.7 L1899.4 1269.5 L1903.1 1270.4 L1906.9 1271.2 L1910.7 1272.0 L1914.5 1272.8 L1918.3 1273.6 L1922.1 1274.5 L1925.9 1275.3 L1929.7 1276.1 L1933.5 1277.0 L1937.2 1277.8 L1941.0 1278.6 L1944.8 1279.5 L1948.6 1280.3 L1952.4 1281.2 L1956.2 1282.0 L1960.0 1282.9 L1963.8 1283.7 L1967.6 1284.5 L1971.3 1285.4 L1975.1 1286.3 L1978.9 1287.1 L1982.7 1288.0 L1986.5 1288.8 L1990.3 1289.7 L1994.1 1290.5 L1997.9 1291.4 L2001.7 1292.3 L2005.4 1293.1 L2009.2 1294.0 L2013.0 1294.9 L2016.8 1295.7 L2020.6 1296.6 L2024.4 1297.5 L2028.2 1298.4 L2032.0 1299.2 L2035.7 1300.1 L2039.5 1301.0 L2043.3 1301.9 L2047.1 1302.7 L2050.9 1303.6 L2054.7 1304.5 L2058.5 1305.4 L2062.3 1306.3 L2066.1 1307.2 L2069.8 1308.1 L2073.6 1309.0 L2077.4 1309.9 L2081.2 1310.8 L2085.0 1311.6" fill="none" stroke="#ff0000" stroke-width="3.2"/>
<path d="M192.0 866.7 L194.4 866.7 L196.7 866.8 L199.1 866.8 L201.5 866.9 L203.9 866.9 L206.2 866.9 L208.6 867.0 L211.0 867.0 L213.4 867.1 L215.7 867.1 L218.1 867.2 L220.5 867.2 L222.8 867.3 L225.2 867.3 L227.6 867.4 L230.0 867.4 L232.3 867.5 L234.7 867.5 L237.1 867.6 L239.4 867.6 L241.8 867.7 L244.2 867.7 L246.6 867.8 L248.9 867.8 L251.3 867.9 L253.7 867.9 L256.1 868.0 L258.4 868.0 L260.8 868.1 L263.2 868.1 L265.5 868.2 L267.9 868.2 L270.3 868.3 L272.7 868.4 L275.0 868.4 L277.4 868.5 L279.8 868.5 L282.1 868.6 L284.5 868.6 L286.9 868.7 L289.3 868.8 L291.6 868.8 L294.0 868.9 L296.4 868.9 L298.8 869.0 L301.1 869.1 L303.5 869.1 L305.9 869.2 L308.2 869.2 L310.6 869.3 L313.0 869.4 L315.4 869.4 L317.7 869.5 L320.1 869.6 L322.5 869.6 L324.9 869.7 L327.2 869.8 L329.6 869.8 L332.0 869.9 L334.3 870.0 L336.7 870.0 L339.1 870.1 L341.5 870.2 L343.8 870.2 L346.2 870.3 L348.6 870.4 L350.9 870.4 L353.3 870.5 L355.7 870.6 L358.1 870.7 L360.4 870.7 L362.8 870.8 L365.2 870.9 L367.6 871.0 L369.9 871.0 L372.3 871.1 L374.7 871.2 L377.0 871.3 L379.4 871.3 L381.8 871.4 L384.2 871.5 L386.5 871.6 L388.9 871.7 L391.3 871.8 L393.6 871.8 L396.0 871.9 L398.4 872.0 L400.8 872.1 L403.1 872.2 L405.5 872.3 L407.9 872.4 L410.3 872.4 L412.6 872.5 L415.0 872.6 L417.4 872.7 L419.7 872.8 L422.1 872.9 L424.5 873.0 L426.9 873.1 L429.2 873.2 L431.6 873.3 L434.0 873.4 L436.4 873.5 L438.7 873.6 L441.1 873.7 L443.5 873.8 L445.8 873.9 L448.2 874.0 L450.6 874.1 L453.0 874.2 L455.3 874.3 L457.7 874.4 L460.1 874.5 L462.4 874.6 L464.8 874.7 L467.2 874.8 L469.6 875.0 L471.9 875.1 L474.3 875.2 L476.7 875.3 L479.1 875.4 L481.4 875.5 L483.8 875.7 L486.2 875.8 L488.5 875.9 L490.9 876.0 L493.3 876.2 L495.7 876.3 L498.0 876.4 L500.4 876.5 L502.8 876.7 L505.1 876.8 L507.5 876.9 L509.9 877.1 L512.3 877.2 L514.6 877.3 L517.0 877.5 L519.4 877.6 L521.8 877.8 L524.1 877.9 L526.5 878.1 L528.9 878.2 L531.2 878.4 L533.6 878.5 L536.0 878.7 L538.4 878.8 L540.7 879.0 L543.1 879.1 L545.5 879.3 L547.9 879.5 L550.2 879.6 L552.6 879.8 L555.0 880.0 L557.3 880.1 L559.7 880.3 L562.1 880.5 L564.5 880.7 L566.8 880.8 L569.2 881.0 L571.6 881.2 L573.9 881.4 L576.3 881.6 L578.7 881.8 L581.1 882.0 L583.4 882.2 L585.8 882.4 L588.2 882.6 L590.6 882.8 L592.9 883.0 L595.3 883.2 L597.7 883.4 L600.0 883.6 L602.4 883.9 L604.8 884.1 L607.2 884.3 L609.5 884.5 L611.9 884.8 L614.3 885.0 L616.6 885.2 L619.0 885.5 L621.4 885.7 L623.8 886.0 L626.1 886.2 L628.5 886.5 L630.9 886.8 L633.3 887.0 L635.6 887.3 L638.0 887.6 L640.4 887.9 L642.7 888.2 L645.1 888.4 L647.5 888.7 L649.9 889.0 L652.2 889.3 L654.6 889.6 L657.0 890.0 L659.4 890.3 L661.7 890.6 L664.1 890.9 L666.5 891.3 L668.8 891.6 L671.2 892.0 L673.6 892.3 L676.0 892.7 L678.3 893.0 L680.7 893.4 L683.1 893.8 L685.4 894.2 L687.8 894.6 L690.2 895.0 L692.6 895.4 L694.9 895.8 L697.3 896.2 L699.7 896.6 L702.1 897.1 L704.4 897.5 L706.8 898.0 L709.2 898.5 L711.5 898.9 L713.9 899.4 L716.3 899.9 L718.7 900.4 L721.0 900.9 L723.4 901.5 L725.8 902.0 L728.1 902.6 L730.5 903.1 L732.9 903.7 L735.3 904.3 L737.6 904.9 L740.0 905.5 L742.4 906.1 L744.8 906.8 L747.1 907.4 L749.5 908.1 L751.9 908.8 L754.2 909.5 L756.6 910.2 L759.0 910.9 L761.4 911.7 L763.7 912.5 L766.1 913.2 L768.5 914.1 L770.9 914.9 L773.2 915.7 L775.6 916.6 L778.0 917.5 L780.3 918.4 L782.7 919.4 L785.1 920.4 L787.5 921.4 L789.8 922.4 L792.2 923.4 L794.6 924.5 L796.9 925.6 L799.3 926.8 L801.7 928.0 L804.1 929.2 L806.4 930.4 L808.8 931.7 L811.2 933.0 L813.6 934.4 L815.9 935.8 L818.3 937.2 L820.7 938.7 L823.0 940.3 L825.4 941.9 L827.8 943.5 L830.2 945.2 L832.5 946.9 L834.9 948.7 L837.3 950.6 L839.6 952.5 L842.0 954.5 L844.4 956.6 L846.8 958.7 L849.1 960.9 L851.5 963.1 L853.9 965.5 L856.3 967.9 L858.6 970.4 L861.0 973.0 L863.4 975.7 L865.7 978.5 L868.1 981.4 L870.5 984.4 L872.9 987.4 L875.2 990.6 L877.6 993.9 L880.0 997.3 L882.4 1000.8 L884.7 1004.4 L887.1 1008.2 L889.5 1012.0 L891.8 1016.0 L894.2 1020.1 L896.6 1024.3 L899.0 1028.6 L901.3 1033.0 L903.7 1037.6 L906.1 1042.2 L908.4 1046.9 L910.8 1051.8 L913.2 1056.7 L915.6 1061.7 L917.9 1066.8 L920.3 1072.0 L922.7 1077.2 L925.1 1082.4 L927.4 1087.7 L929.8 1093.0 L932.2 1098.3 L934.5 1103.6 L936.9 1108.9 L939.3 1114.2 L941.7 1119.4 L944.0 1124.6 L946.4 1129.7 L948.8 1134.8 L951.1 1139.7 L953.5 1144.6 L955.9 1149.4 L958.3 1154.1 L960.6 1158.7 L963.0 1163.2 L965.4 1167.5 L967.8 1171.8 L970.1 1175.9 L972.5 1180.0 L974.9 1183.9 L977.2 1187.7 L979.6 1191.3 L982.0 1194.9 L984.4 1198.3 L986.7 1201.7 L989.1 1204.9 L991.5 1208.0 L993.9 1211.0 L996.2 1214.0 L998.6 1216.8 L1001.0 1219.5 L1003.3 1222.1 L1005.7 1224.7 L1008.1 1227.1 L1010.5 1229.5 L1012.8 1231.8 L1015.2 1234.0 L1017.6 1236.2 L1019.9 1238.3 L1022.3 1240.3 L1024.7 1242.2 L1027.1 1244.1 L1029.4 1245.9 L1031.8 1247.7 L1034.2 1249.4 L1036.6 1251.0 L1038.9 1252.6 L1041.3 1254.2 L1043.7 1255.7 L1046.0 1257.1 L1048.4 1258.5 L1050.8 1259.9 L1053.2 1261.2 L1055.5 1262.5 L1057.9 1263.7 L1060.3 1264.9 L1062.6 1266.1 L1065.0 1267.3 L1067.4 1268.4 L1069.8 1269.4 L1072.1 1270.5 L1074.5 1271.5 L1076.9 1272.5 L1079.3 1273.4 L1081.6 1274.4 L1084.0 1275.3 L1086.4 1276.2 L1088.7 1277.0 L1091.1 1277.9 L1093.5 1278.7 L1095.9 1279.5 L1098.2 1280.3 L1100.6 1281.0 L1103.0 1281.7 L1105.4 1282.5 L1107.7 1283.2 L1110.1 1283.8 L1112.5 1284.5 L1114.8 1285.2 L1117.2 1285.8 L1119.6 1286.4 L1122.0 1287.0 L1124.3 1287.6 L1126.7 1288.2 L1129.1 1288.7 L1131.4 1289.3 L1133.8 1289.8 L1136.2 1290.3 L1138.6 1290.8 L1140.9 1291.3 L1143.3 1291.8 L1145.7 1292.3 L1148.1 1292.8 L1150.4 1293.2 L1152.8 1293.7 L1155.2 1294.1 L1157.5 1294.5 L1159.9 1294.9 L1162.3 1295.3 L1164.7 1295.7 L1167.0 1296.1 L1169.4 1296.5 L1171.8 1296.9 L1174.1 1297.2 L1176.5 1297.6 L1178.9 1297.9 L1181.3 1298.3 L1183.6 1298.6 L1186.0 1298.9 L1188.4 1299.3 L1190.8 1299.6 L1193.1 1299.9 L1195.5 1300.2 L1197.9 1300.5 L1200.2 1300.8 L1202.6 1301.0 L1205.0 1301.3 L1207.4 1301.6 L1209.7 1301.8 L1212.1 1302.1 L1214.5 1302.3 L1216.9 1302.6 L1219.2 1302.8 L1221.6 1303.1 L1224.0 1303.3 L1226.3 1303.5 L1228.7 1303.8 L1231.1 1304.0 L1233.5 1304.2 L1235.8 1304.4 L1238.2 1304.6 L1240.6 1304.8 L1242.9 1305.0 L1245.3 1305.2 L1247.7 1305.4 L1250.1 1305.6 L1252.4 1305.7 L1254.8 1305.9 L1257.2 1306.1 L1259.6 1306.3 L1261.9 1306.4 L1264.3 1306.6 L1266.7 1306.7 L1269.0 1306.9 L1271.4 1307.0 L1273.8 1307.2 L1276.2 1307.3 L1278.5 1307.5 L1280.9 1307.6 L1283.3 1307.7 L1285.6 1307.9 L1288.0 1308.0 L1290.4 1308.1 L1292.8 1308.3 L1295.1 1308.4 L1297.5 1308.5 L1299.9 1308.6 L1302.3 1308.7 L1304.6 1308.8 L1307.0 1308.9 L1309.4 1309.0 L1311.7 1309.1 L1314.1 1309.2 L1316.5 1309.3 L1318.9 1309.4 L1321.2 1309.5 L1323.6 1309.6 L1326.0 1309.7 L1328.4 1309.8 L1330.7 1309.9 L1333.1 1309.9 L1335.5 1310.0 L1337.8 1310.1 L1340.2 1310.2 L1342.6 1310.2 L1345.0 1310.3 L1347.3 1310.4 L1349.7 1310.4 L1352.1 1310.5 L1354.4 1310.5 L1356.8 1310.6 L1359.2 1310.7 L1361.6 1310.7 L1363.9 1310.8 L1366.3 1310.8 L1368.7 1310.9 L1371.1 1310.9 L1373.4 1311.0 L1375.8 1311.0 L1378.2 1311.0 L1380.5 1311.1 L1382.9 1311.1 L1385.3 1311.1 L1387.7 1311.2 L1390.0 1311.2 L1392.4 1311.2 L1394.8 1311.3 L1397.1 1311.3 L1399.5 1311.3 L1401.9 1311.3 L1404.3 1311.4 L1406.6 1311.4 L1409.0 1311.4 L1411.4 1311.4 L1413.8 1311.4 L1416.1 1311.5 L1418.5 1311.5 L1420.9 1311.5 L1423.2 1311.5 L1425.6 1311.5 L1428.0 1311.5 L1430.4 1311.5 L1432.7 1311.5 L1435.1 1311.5 L1437.5 1311.5 L1439.9 1311.5 L1442.2 1311.5 L1444.6 1311.5 L1447.0 1311.5 L1449.3 1311.5 L1451.7 1311.5 L1454.1 1311.5 L1456.5 1311.5 L1458.8 1311.5 L1461.2 1311.4 L1463.6 1311.4 L1465.9 1311.4 L1468.3 1311.4 L1470.7 1311.4 L1473.1 1311.4 L1475.4 1311.3 L1477.8 1311.3 L1480.2 1311.3 L1482.6 1311.3 L1484.9 1311.2 L1487.3 1311.2 L1489.7 1311.2 L1492.0 1311.1 L1494.4 1311.1 L1496.8 1311.1 L1499.2 1311.0 L1501.5 1311.0 L1503.9 1311.0 L1506.3 1310.9 L1508.6 1310.9 L1511.0 1310.9 L1513.4 1310.8 L1515.8 1310.8 L1518.1 1310.7 L1520.5 1310.7 L1522.9 1310.6 L1525.3 1310.6 L1527.6 1310.6 L1530.0 1310.5 L1532.4 1310.5 L1534.7 1310.4 L1537.1 1310.4 L1539.5 1310.3 L1541.9 1310.2 L1544.2 1310.2 L1546.6 1310.1 L1549.0 1310.1 L1551.4 1310.0 L1553.7 1310.0 L1556.1 1309.9 L1558.5 1309.8 L1560.8 1309.8 L1563.2 1309.7 L1565.6 1309.6 L1568.0 1309.6 L1570.3 1309.5 L1572.7 1309.4 L1575.1 1309.4 L1577.4 1309.3 L1579.8 1309.2 L1582.2 1309.2 L1584.6 1309.1 L1586.9 1309.0 L1589.3 1308.9 L1591.7 1308.9 L1594.1 1308.8 L1596.4 1308.7 L1598.8 1308.6 L1601.2 1308.5 L1603.5 1308.5 L1605.9 1308.4 L1608.3 1308.3 L1610.7 1308.2 L1613.0 1308.1 L1615.4 1308.0 L1617.8 1307.9 L1620.1 1307.9 L1622.5 1307.8 L1624.9 1307.7 L1627.3 1307.6 L1629.6 1307.5 L1632.0 1307.4 L1634.4 1307.3 L1636.8 1307.2 L1639.1 1307.1 L1641.5 1307.0 L1643.9 1306.9 L1646.2 1306.8 L1648.6 1306.7 L1651.0 1306.6 L1653.4 1306.5 L1655.7 1306.4 L1658.1 1306.3 L1660.5 1306.2 L1662.9 1306.1 L1665.2 1306.0 L1667.6 1305.9 L1670.0 1305.8 L1672.3 1305.6 L1674.7 1305.5 L1677.1 1305.4 L1679.5 1305.3 L1681.8 1305.2 L1684.2 1305.1 L1686.6 1305.0 L1688.9 1304.8 L1691.3 1304.7 L1693.7 1304.6 L1696.1 1304.5 L1698.4 1304.4 L1700.8 1304.2 L1703.2 1304.1 L1705.6 1304.0 L1707.9 1303.9 L1710.3 1303.7 L1712.7 1303.6 L1715.0 1303.5 L1717.4 1303.4 L1719.8 1303.2 L1722.2 1303.1 L1724.5 1303.0 L1726.9 1302.8 L1729.3 1302.7 L1731.6 1302.6 L1734.0 1302.4 L1736.4 1302.3 L1738.8 1302.2 L1741.1 1302.0 L1743.5 1301.9 L1745.9 1301.7 L1748.3 1301.6 L1750.6 1301.5 L1753.0 1301.3 L1755.4 1301.2 L1757.7 1301.0 L1760.1 1300.9 L1762.5 1300.7 L1764.9 1300.6 L1767.2 1300.5 L1769.6 1300.3 L1772.0 1300.2 L1774.4 1300.0 L1776.7 1299.8 L1779.1 1299.7 L1781.5 1299.5 L1783.8 1299.4 L1786.2 1299.2 L1788.6 1299.1 L1791.0 1298.9 L1793.3 1298.8 L1795.7 1298.6 L1798.1 1298.4 L1800.4 1298.3 L1802.8 1298.1 L1805.2 1298.0 L1807.6 1297.8 L1809.9 1297.6 L1812.3 1297.5 L1814.7 1297.3 L1817.1 1297.1 L1819.4 1297.0 L1821.8 1296.8 L1824.2 1296.6 L1826.5 1296.5 L1828.9 1296.3 L1831.3 1296.1 L1833.7 1295.9 L1836.0 1295.8 L1838.4 1295.6 L1840.8 1295.4 L1843.1 1295.2 L1845.5 1295.1 L1847.9 1294.9 L1850.3 1294.7 L1852.6 1294.5 L1855.0 1294.3 L1857.4 1294.2 L1859.8 1294.0 L1862.1 1293.8 L1864.5 1293.6 L1866.9 1293.4 L1869.2 1293.2 L1871.6 1293.0 L1874.0 1292.9 L1876.4 1292.7 L1878.7 1292.5 L1881.1 1292.3 L1883.5 1292.1 L1885.9 1291.9 L1888.2 1291.7 L1890.6 1291.5 L1893.0 1291.3 L1895.3 1291.1 L1897.7 1290.9 L1900.1 1290.7 L1902.5 1290.5 L1904.8 1290.3 L1907.2 1290.1 L1909.6 1289.9 L1911.9 1289.7 L1914.3 1289.5 L1916.7 1289.3 L1919.1 1289.1 L1921.4 1288.9 L1923.8 1288.7 L1926.2 1288.5 L1928.6 1288.3 L1930.9 1288.1 L1933.3 1287.9 L1935.7 1287.7 L1938.0 1287.4 L1940.4 1287.2 L1942.8 1287.0 L1945.2 1286.8 L1947.5 1286.6 L1949.9 1286.4 L1952.3 1286.2 L1954.6 1285.9 L1957.0 1285.7 L1959.4 1285.5 L1961.8 1285.3 L1964.1 1285.1 L1966.5 1284.8 L1968.9 1284.6 L1971.3 1284.4 L1973.6 1284.2 L1976.0 1283.9 L1978.4 1283.7 L1980.7 1283.5 L1983.1 1283.3 L1985.5 1283.0 L1987.9 1282.8 L1990.2 1282.6 L1992.6 1282.3 L1995.0 1282.1 L1997.4 1281.9 L1999.7 1281.6 L2002.1 1281.4 L2004.5 1281.2 L2006.8 1280.9 L2009.2 1280.7 L2011.6 1280.5 L2014.0 1280.2 L2016.3 1280.0 L2018.7 1279.8 L2021.1 1279.5 L2023.4 1279.3 L2025.8 1279.0 L2028.2 1278.8 L2030.6 1278.5 L2032.9 1278.3 L2035.3 1278.1 L2037.7 1277.8 L2040.1 1277.6 L2042.4 1277.3 L2044.8 1277.1 L2047.2 1276.8 L2049.5 1276.6 L2051.9 1276.3 L2054.3 1276.1 L2056.7 1275.8 L2059.0 1275.6 L2061.4 1275.3 L2063.8 1275.1 L2066.1 1274.8 L2068.5 1274.6 L2070.9 1274.3 L2073.3 1274.0 L2075.6 1273.8 L2078.0 1273.5 L2080.4 1273.3 L2082.8 1273.0 L2085.1 1272.8 L2087.5 1272.5" fill="none" stroke="#008000" stroke-width="6.0"/>
<line x1="452.6" y1="310.8" x2="452.3" y2="430" stroke="#000" stroke-width="4"/>
<polygon points="451.2,473.5 431.6,410.8 452.3,427.5 471.3,416.2" fill="#000"/>
<line x1="452.9" y1="1192" x2="456.7" y2="1304" stroke="#000" stroke-width="3.6"/>
<polygon points="453.5,1153.5 434.6,1209.0 452.9,1196.5 473.8,1211.6" fill="#000"/>
<polygon points="456.7,1345.3 434.6,1284.2 456.7,1299.8 474.4,1288.7" fill="#000"/>
<text font-family="Liberation Serif, Times New Roman, serif" font-size="64.00" fill="#000" letter-spacing="0.52" x="734.50" y="70.50">Magnitude and phase diagrams</text>
<text font-family="Liberation Serif, Times New Roman, serif" font-size="64.00" fill="#000" letter-spacing="0.42" transform="translate(95.90,613.00) rotate(-90)">Magnitude [db]</text>
<text font-family="Liberation Serif, Times New Roman, serif" font-size="64.00" fill="#000" letter-spacing="0.35" transform="translate(70.00,1296.50) rotate(-90)">Phase [deg]</text>
<text font-family="Liberation Serif, Times New Roman, serif" font-size="64.00" fill="#000" letter-spacing="0.00" x="853.50" y="1587.10">Frequency</text>
<text font-family="Liberation Serif, Times New Roman, serif" font-size="64.00" fill="#000" font-style="italic" x="1147.50" y="1587.60">ω</text>
<text font-family="Liberation Serif, Times New Roman, serif" font-size="64.00" fill="#000" letter-spacing="1.00" x="1194.00" y="1587.10">[rad s</text>
<text font-family="Liberation Serif, Times New Roman, serif" font-size="45.00" fill="#000" transform="translate(1341.00,1564.75) scale(1.432,1)">−</text>
<text font-family="Liberation Serif, Times New Roman, serif" font-size="45.00" fill="#000" x="1381.00" y="1562.60">1</text>
<text font-family="Liberation Serif, Times New Roman, serif" font-size="64.00" fill="#000" x="1404.25" y="1588.35">]</text>
<text font-family="Liberation Serif, Times New Roman, serif" font-size="74.00" fill="#000" font-style="italic" x="251.00" y="669.00">ω</text>
<text font-family="Liberation Serif, Times New Roman, serif" font-size="52.00" fill="#000" font-style="italic" x="298.00" y="680.50">g</text>
<text font-family="Liberation Serif, Times New Roman, serif" font-size="74.00" fill="#000" transform="translate(338.36,676.25) scale(1.460,1)">=</text>
<text font-family="Liberation Serif, Times New Roman, serif" font-size="74.00" fill="#000" letter-spacing="-0.17" x="415.00" y="670.00">1600</text>
<text font-family="Liberation Serif, Times New Roman, serif" font-size="74.00" fill="#000" x="486.25" y="1265.55">Φ</text>
<text font-family="Liberation Serif, Times New Roman, serif" font-size="52.00" fill="#000" font-style="italic" x="538.50" y="1274.50">m</text>
<text font-family="Liberation Serif, Times New Roman, serif" font-size="74.00" fill="#000" transform="translate(597.94,1272.75) scale(1.433,1)">=</text>
<text font-family="Liberation Serif, Times New Roman, serif" font-size="74.00" fill="#000" letter-spacing="-3.50" x="671.50" y="1267.50">85</text>
<text font-family="DejaVu Sans, sans-serif" font-size="66.50" fill="#000" x="737.25" y="1244.90">∘</text>
<text font-family="Liberation Sans, Arial, Helvetica, sans-serif" font-size="41.50" fill="#262626" x="160.90" y="791.10">10</text>
<text font-family="Liberation Sans, Arial, Helvetica, sans-serif" font-size="34.00" fill="#262626" x="207.20" y="770.60">3</text>
<text font-family="Liberation Sans, Arial, Helvetica, sans-serif" font-size="41.50" fill="#262626" x="1418.10" y="790.90">10</text>
<text font-family="Liberation Sans, Arial, Helvetica, sans-serif" font-size="34.00" fill="#262626" x="1466.35" y="770.80">4</text>
<text font-family="Liberation Sans, Arial, Helvetica, sans-serif" font-size="41.50" fill="#262626" x="160.90" y="1524.20">10</text>
<text font-family="Liberation Sans, Arial, Helvetica, sans-serif" font-size="34.00" fill="#262626" x="207.20" y="1503.20">3</text>
<text font-family="Liberation Sans, Arial, Helvetica, sans-serif" font-size="41.50" fill="#262626" x="1418.10" y="1524.30">10</text>
<text font-family="Liberation Sans, Arial, Helvetica, sans-serif" font-size="34.00" fill="#262626" x="1466.00" y="1503.30">4</text>
<text font-family="Liberation Sans, Arial, Helvetica, sans-serif" font-size="43.00" fill="#262626" transform="translate(134.37,111.50) scale(0.900,1)">50</text>
<text font-family="Liberation Sans, Arial, Helvetica, sans-serif" font-size="43.00" fill="#262626" transform="translate(134.37,190.31) scale(0.900,1)">40</text>
<text font-family="Liberation Sans, Arial, Helvetica, sans-serif" font-size="43.00" fill="#262626" transform="translate(134.37,268.12) scale(0.900,1)">30</text>
<text font-family="Liberation Sans, Arial, Helvetica, sans-serif" font-size="43.00" fill="#262626" transform="translate(134.37,346.94) scale(0.900,1)">20</text>
<text font-family="Liberation Sans, Arial, Helvetica, sans-serif" font-size="43.00" fill="#262626" transform="translate(134.37,424.75) scale(0.900,1)">10</text>
<text font-family="Liberation Sans, Arial, Helvetica, sans-serif" font-size="43.00" fill="#262626" transform="translate(155.88,503.56) scale(0.900,1)">0</text>
<text font-family="Liberation Sans, Arial, Helvetica, sans-serif" font-size="43.00" fill="#262626" transform="translate(121.85,581.38) scale(0.900,1)">-10</text>
<text font-family="Liberation Sans, Arial, Helvetica, sans-serif" font-size="43.00" fill="#262626" transform="translate(121.85,660.19) scale(0.900,1)">-20</text>
<text font-family="Liberation Sans, Arial, Helvetica, sans-serif" font-size="43.00" fill="#262626" transform="translate(121.85,738.00) scale(0.900,1)">-30</text>
<text font-family="Liberation Sans, Arial, Helvetica, sans-serif" font-size="43.00" fill="#262626" transform="translate(155.88,874.16) scale(0.900,1)">0</text>
<text font-family="Liberation Sans, Arial, Helvetica, sans-serif" font-size="43.00" fill="#262626" transform="translate(121.85,1012.96) scale(0.900,1)">-50</text>
<text font-family="Liberation Sans, Arial, Helvetica, sans-serif" font-size="43.00" fill="#262626" transform="translate(100.33,1151.76) scale(0.900,1)">-100</text>
<text font-family="Liberation Sans, Arial, Helvetica, sans-serif" font-size="43.00" fill="#262626" transform="translate(100.33,1290.56) scale(0.900,1)">-150</text>
<text font-family="Liberation Sans, Arial, Helvetica, sans-serif" font-size="43.00" fill="#262626" transform="translate(100.33,1429.36) scale(0.900,1)">-200</text>
</svg>
</body></html>
